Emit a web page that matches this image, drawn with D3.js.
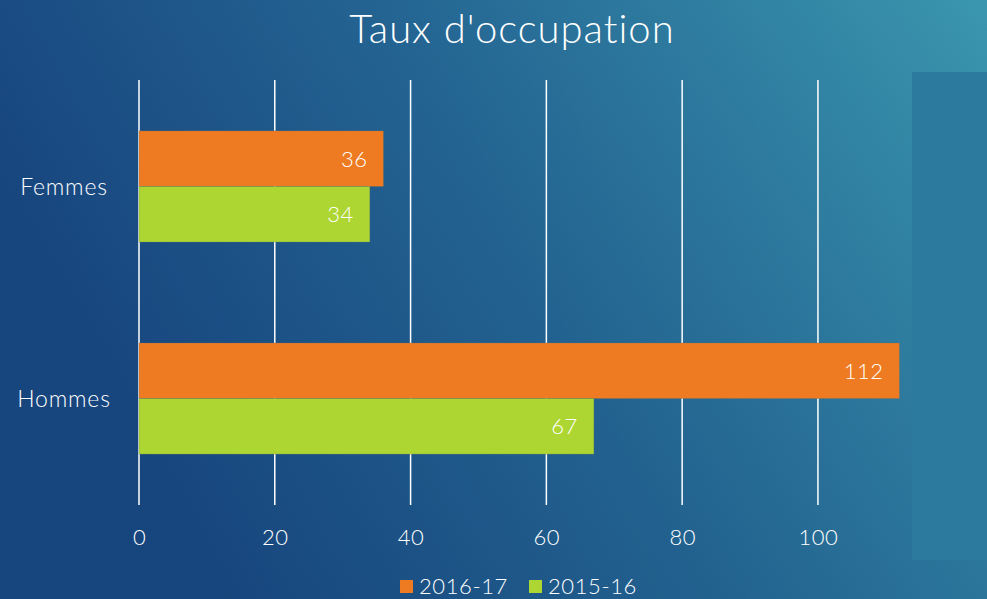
<!DOCTYPE html>
<html>
<head>
<meta charset="utf-8">
<script src="https://d3js.org/d3.v7.min.js"></script>
<style>
  html, body { margin: 0; padding: 0; overflow: hidden; }
  body { width: 987px; height: 599px; }
  text { font-family: "Lato", "Open Sans", sans-serif; font-weight: 300; fill: #fff; }
</style>
</head>
<body>
<div id="chart"></div>
<script>
// chart data
const categories = ["Femmes", "Hommes"];
const seriesNames = ["2016-17", "2015-16"];
const values2016 = [36, 112];
const values2015 = [34, 67];
const tickValues = [0, 20, 40, 60, 80, 100];
const seriesColors = ["#ee7b22", "#add633"];

const W = 987, H = 599;
const plot = { left: 139, right: 913, top: 80, bottom: 505 };

const svg = d3.select("#chart").append("svg")
    .attr("width", W)
    .attr("height", H);

// background gradient (slide theme)
const defs = svg.append("defs");
const grad = defs.append("linearGradient")
    .attr("id", "bg")
    .attr("x1", "0").attr("y1", "0.3")
    .attr("x2", "1").attr("y2", "0");
grad.append("stop").attr("offset", "0").attr("stop-color", "#18467f");
grad.append("stop").attr("offset", "0.45").attr("stop-color", "#246593");
grad.append("stop").attr("offset", "1").attr("stop-color", "#3a96ae");

svg.append("rect").attr("width", W).attr("height", H).attr("fill", "url(#bg)");

// slight darkening towards the bottom
const shade = defs.append("linearGradient")
    .attr("id", "shade")
    .attr("x1", "0").attr("y1", "0")
    .attr("x2", "0").attr("y2", "1");
shade.append("stop").attr("offset", "0").attr("stop-color", "#0d3b6b").attr("stop-opacity", 0);
shade.append("stop").attr("offset", "1").attr("stop-color", "#0d3b6b").attr("stop-opacity", 0.12);
svg.append("rect").attr("width", W).attr("height", H).attr("fill", "url(#shade)");

// darker vertical band on the right
svg.append("rect")
    .attr("x", 912).attr("y", 72)
    .attr("width", W - 912).attr("height", 488)
    .attr("fill", "#2c7a9e");

// title
svg.append("text")
    .attr("x", 512).attr("y", 43)
    .attr("text-anchor", "middle")
    .style("font-size", "40px")
    .style("letter-spacing", "1px")
    .text("Taux d'occupation");

const x = d3.scaleLinear().domain([0, 114]).range([plot.left, plot.right]);
const y = d3.scaleBand().domain(categories).range([plot.top, plot.bottom]).paddingInner(0.476).paddingOuter(0.24);
const ySub = d3.scaleBand().domain(seriesNames).range([0, y.bandwidth()]);

// gridlines
svg.append("g")
    .selectAll("line")
    .data(tickValues)
    .join("line")
    .attr("x1", d => x(d)).attr("x2", d => x(d))
    .attr("y1", plot.top).attr("y2", plot.bottom)
    .attr("stroke", "#ffffff")
    .attr("stroke-width", 1.5);

// x axis labels
const xAxis = svg.append("g")
    .attr("transform", `translate(0,${plot.bottom})`)
    .call(d3.axisBottom(x).tickValues(tickValues).tickSize(0).tickPadding(24));
xAxis.select(".domain").remove();
xAxis.selectAll("text")
    .attr("fill", "#fff")
    .style("font-size", "22px")
    .style("letter-spacing", "0.5px")
    .style("font-weight", "300")
    .style("font-family", "Lato, 'Open Sans', sans-serif");

// category labels
svg.append("g")
    .selectAll("text")
    .data(categories)
    .join("text")
    .attr("x", 64)
    .attr("y", d => y(d) + y.bandwidth() / 2)
    .attr("dy", "0.35em")
    .attr("text-anchor", "middle")
    .style("font-size", "23px")
    .style("letter-spacing", "0.8px")
    .text(d => d);

// bars
const rows = categories.map((c, i) => ({
    cat: c,
    items: [
        { s: seriesNames[0], v: values2016[i], color: seriesColors[0] },
        { s: seriesNames[1], v: values2015[i], color: seriesColors[1] }
    ]
}));

const grp = svg.append("g")
    .selectAll("g")
    .data(rows)
    .join("g")
    .attr("transform", d => `translate(0,${y(d.cat)})`);

grp.selectAll("rect")
    .data(d => d.items)
    .join("rect")
    .attr("x", x(0))
    .attr("y", d => ySub(d.s))
    .attr("width", d => x(d.v) - x(0))
    .attr("height", ySub.bandwidth())
    .attr("fill", d => d.color)
    .attr("stroke", "rgba(90,110,110,0.3)")
    .attr("stroke-width", 0.8);

grp.selectAll("text")
    .data(d => d.items)
    .join("text")
    .attr("x", d => x(d.v) - 16)
    .attr("y", d => ySub(d.s) + ySub.bandwidth() / 2)
    .attr("dy", "0.36em")
    .attr("text-anchor", "end")
    .style("font-size", "22px")
    .style("letter-spacing", "0.5px")
    .text(d => d.v);

// legend
const legend = svg.append("g").attr("transform", "translate(400,586)");
const legendX = [0, 129];
seriesNames.forEach((name, i) => {
    const g = legend.append("g").attr("transform", `translate(${legendX[i]},0)`);
    g.append("rect")
        .attr("x", 0).attr("y", -6)
        .attr("width", 13).attr("height", 13)
        .attr("fill", seriesColors[i]);
    g.append("text")
        .attr("x", 19).attr("y", 0)
        .attr("dy", "0.36em")
        .style("font-size", "22px")
        .style("letter-spacing", "0.6px")
        .text(name);
});
</script>
</body>
</html>
